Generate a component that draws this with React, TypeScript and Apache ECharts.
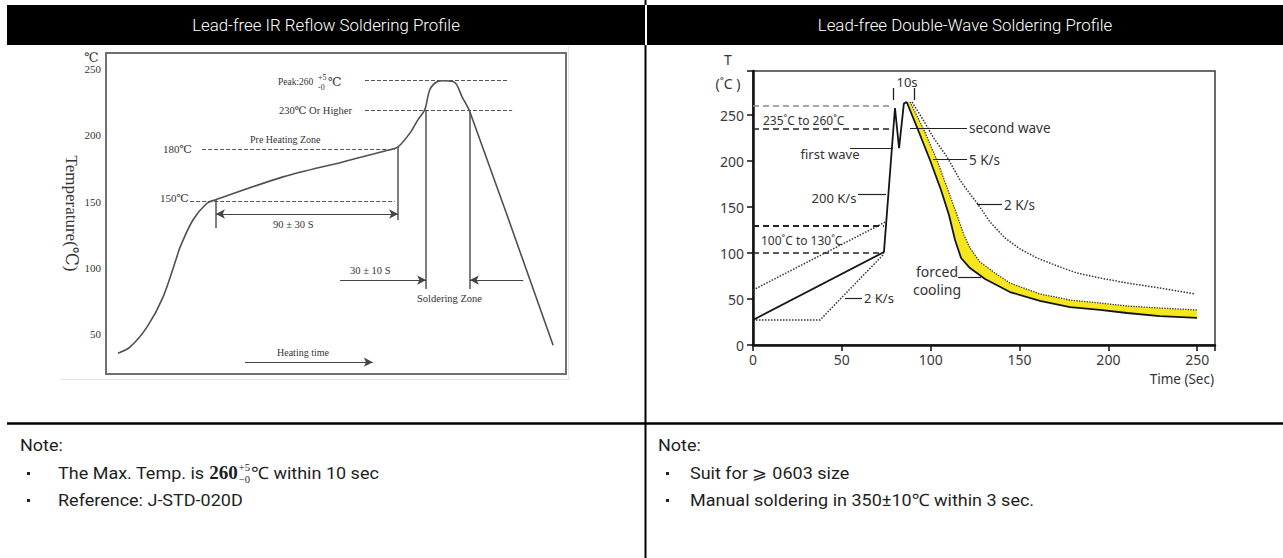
import React, { useEffect, useRef } from "react";
import * as echarts from "echarts";

// ---------------- Left chart: Lead-free IR reflow profile ----------------
// relative heating time (0..100) and temperature (°C) as drawn against the axis
const irTime = [2.6, 5.2, 8.9, 12.4, 15.4, 16.1, 18.9, 22.0, 23.7, 38.5, 51.5, 61.7, 63.5, 66.1, 67.8, 69.3, 70.4, 72.0, 73.7, 75.9, 77.4, 79.1, 97.2];
const irTemp = [35.6, 40.2, 55.3, 78.0, 108.2, 115.7, 136.1, 148.9, 151.2, 168.6, 179.9, 189.0, 191.2, 201.8, 211.6, 219.2, 234.3, 240.3, 241.1, 239.6, 229.0, 217.7, 41.7];
const irTickValues = [50, 100, 150, 200, 250];
// dashed guide levels: [fromTime, toTime, level]
const irGuides = [
  [56.3, 87.4, 241.1], // Peak:260
  [56.3, 88.3, 219.2], // 230°C Or Higher
  [20.9, 62.8, 189.7], // 180°C
  [18.3, 62.8, 150.5], // 150°C
];
// vertical zone markers: [time, fromTemp, toTemp]
const irZones = [
  [23.9, 151.2, 130.1],
  [63.5, 191.2, 136.1],
  [69.6, 219.2, 84.0],
  [79.1, 217.7, 84.0],
];
// arrows: [fromTime, toTime, level, arrowAtStart]
const irArrows = [
  [23.9, 63.5, 140.6, 1], // 90 ± 30 S
  [50.9, 69.6, 90.8, 0], // 30 ± 10 S
  [90.7, 79.1, 90.8, 0],
  [30.2, 58.0, 28.9, 0], // Heating time
];

// ---------------- Right chart: Lead-free double-wave soldering profile ----------------
const waveTicks = [0, 50, 100, 150, 200, 250];
const waveMainTime = [0, 73.7, 79.9, 82.2, 84.9, 86.5, 92.9, 99.6, 105.8, 110.3, 113.7, 117.1, 122.1, 130.6, 144.6, 161.5, 178.4, 195.3, 210.5, 229.0, 249.9];
const waveMainTemp = [27.2, 101.1, 257.7, 214.2, 262.5, 264.3, 233.8, 201.2, 168.6, 141.4, 114.2, 94.6, 83.7, 71.8, 57.6, 47.9, 41.3, 38.1, 34.8, 31.5, 29.4];
const waveCool5Time = [88.4, 96.2, 103.5, 109.7, 114.8, 118.7, 122.1, 127.7, 136.2, 144.6, 161.5, 178.4, 195.3, 210.5, 229.0, 249.9];
const waveCool5Temp = [264.3, 233.8, 201.2, 168.6, 141.4, 119.6, 105.5, 90.3, 78.3, 67.4, 55.5, 48.9, 45.7, 42.4, 40.2, 38.1];
const waveCool2Time = [89.5, 95.1, 101.3, 109.2, 116.5, 120.4, 126.1, 133.4, 141.8, 150.3, 159.8, 172.8, 182.3, 195.3, 210.5, 229.0, 248.7];
const waveCool2Temp = [264.3, 246.9, 226.2, 204.5, 179.4, 168.6, 154.4, 133.8, 116.4, 104.4, 94.6, 84.8, 78.3, 72.9, 67.4, 62.0, 55.5];
const wavePreUpperTime = [0, 74.5];
const wavePreUpperTemp = [59.8, 133.8];
const wavePreLowerTime = [0, 37.7, 73.7];
const wavePreLowerTemp = [27.2, 27.2, 99.0];
// dashed levels: [level, toTime]
const waveLevels = [
  [260, 78.8],
  [235, 78.8],
  [130, 73.7],
  [100, 73.7],
];

const zip = (a: number[], b: number[]) => a.map((v, i) => [v, b[i]]);

function measure(text: string, font: string): number {
  const c = document.createElement("canvas").getContext("2d");
  if (!c) return text.length * 8;
  c.font = font;
  return c.measureText(text).width;
}

const SERIF = '"Liberation Serif", "DejaVu Serif", serif';
const SANS = '"Noto Sans", "DejaVu Sans", sans-serif';
const UI = 'Roboto, "Noto Sans", sans-serif';

function txt(x: number, y: number, text: string, size: number, family: string, o: any = {}) {
  const align = o.align || "left";
  return {
    type: "text",
    x,
    y,
    z: 50,
    silent: true,
    scaleX: o.scaleX || 1,
    style: {
      text,
      fontSize: size,
      fontFamily: family,
      fontWeight: o.weight || "normal",
      fill: o.fill || "#333",
      align,
      textAlign: align,
      verticalAlign: "middle",
      textVerticalAlign: "middle",
    },
  };
}
function seg(x1: number, y1: number, x2: number, y2: number, w: number, color: string) {
  return { type: "line", z: 50, silent: true, shape: { x1, y1, x2, y2 }, style: { stroke: color, lineWidth: w } };
}
function box(x: number, y: number, w: number, h: number, fill: string) {
  return { type: "rect", z: 5, silent: true, shape: { x, y, width: w, height: h }, style: { fill } };
}

export default function App() {
  const ref = useRef<HTMLDivElement>(null);

  useEffect(() => {
    if (!ref.current) return;
    const chart = echarts.init(ref.current, null, { renderer: "svg" });

    // header: tall light text, condensed to the reference width
    const hdrText1 = "Lead-free IR Reflow Soldering Profile";
    const hdrText2 = "Lead-free Double-Wave Soldering Profile";
    const hdrSize = 17;
    let hdrScale = 268 / measure(hdrText1, `300 ${hdrSize}px ${UI}`);
    hdrScale = Math.max(0.72, Math.min(1.1, hdrScale));

    // notes
    const noteSize = 17;
    const noteFont = `${noteSize}px ${UI}`;
    const noteLong = "Manual soldering in 350±10℃ within 3 sec.";
    const ns = 1.06;

    const t1 = "The Max. Temp. is ";
    const x260 = 58 + measure(t1, noteFont) * ns;
    const numSize = noteSize + 1;
    const xSup = x260 + measure("260", `bold ${numSize}px ${SERIF}`) * ns + 1;
    const supSize = Math.round(noteSize * 0.6);
    const xAfter = xSup + measure("+5", `${supSize}px ${SERIF}`) * ns + 1;
    const nt = (x: number, y: number, s: string) => txt(x, y, s, noteSize, UI, { fill: "#1e1e1e", scaleX: ns });

    const graphics: any[] = [
      // table structure
      box(7, 5, 638, 40, "#000"),
      box(647, 5, 636, 40, "#000"),
      seg(645.5, 0, 645.5, 5, 2, "#000"),
      seg(645.5, 45, 645.5, 558, 2, "#000"),
      seg(7, 423.5, 1283, 423.5, 2.5, "#000"),
      // faint scanned-image edges
      seg(60, 379.5, 570, 379.5, 1, "#e2e2e2"),
      seg(568.5, 46, 568.5, 380, 1, "#e6e6e6"),
      // headers
      txt(326, 25, hdrText1, hdrSize, UI, { fill: "#fff", align: "center", weight: 300, scaleX: hdrScale }),
      txt(965, 25, hdrText2, hdrSize, UI, { fill: "#fff", align: "center", weight: 300, scaleX: hdrScale }),
      // notes left
      nt(20, 445, "Note:"),
      box(27, 472, 3, 3, "#222"),
      box(27, 499, 3, 3, "#222"),
      nt(58, 473, t1),
      txt(x260, 473, "260", numSize, SERIF, { fill: "#1e1e1e", weight: "bold", scaleX: ns }),
      txt(xSup, 468, "+5", supSize, SERIF, { fill: "#1e1e1e", scaleX: ns }),
      txt(xSup, 480, "−0", supSize, SERIF, { fill: "#1e1e1e", scaleX: ns }),
      nt(xAfter, 473, "℃ within 10 sec"),
      nt(58, 500, "Reference: J-STD-020D"),
      // notes right
      nt(658, 445, "Note:"),
      box(666, 472, 3, 3, "#222"),
      box(666, 499, 3, 3, "#222"),
      nt(690, 473, "Suit for ⩾ 0603 size"),
      nt(690, 500, noteLong),

      // left chart annotations
      txt(84, 57, "℃", 13, SERIF),
      txt(278, 82, "Peak:260", 9.5, SERIF),
      txt(318, 77, "+5", 8, SERIF),
      txt(318, 87, "-0", 8, SERIF),
      txt(328, 82, "℃", 12, SERIF),
      txt(279, 110, "230℃ Or Higher", 10.5, SERIF),
      txt(250, 139, "Pre Heating Zone", 10, SERIF),
      txt(163, 149, "180℃", 11, SERIF),
      txt(160, 198, "150℃", 11, SERIF),
      txt(273, 224, "90 ± 30 S", 10.5, SERIF),
      txt(350, 270, "30 ± 10 S", 10.5, SERIF),
      txt(417, 298, "Soldering Zone", 10.5, SERIF),
      txt(277, 352, "Heating time", 10, SERIF),

      // right chart annotations
      txt(728, 59, "T", 14, SANS, { align: "center" }),
      txt(728, 83, "(˚C )", 14, SANS, { align: "center" }),
      txt(907, 82, "10s", 13, SANS, { align: "center" }),
      seg(893.5, 88, 893.5, 100, 1.3, "#222"),
      seg(914.5, 88, 914.5, 100, 1.3, "#222"),
      txt(763, 120, "235˚C to 260˚C", 12, SANS),
      txt(830, 154, "first wave", 13, SANS, { align: "center" }),
      seg(850, 148.5, 893, 148.5, 1.2, "#222"),
      txt(834, 198, "200 K/s", 13, SANS, { align: "center" }),
      seg(858, 194.5, 886, 194.5, 1.2, "#222"),
      txt(761, 240, "100˚C to 130˚C", 12, SANS),
      txt(864, 298, "2 K/s", 13, SANS),
      seg(845, 298.5, 862, 298.5, 1.2, "#222"),
      seg(910, 128.5, 967, 128.5, 1.2, "#222"),
      txt(969, 128, "second wave", 13.5, SANS),
      seg(933, 159.5, 967, 159.5, 1.2, "#222"),
      txt(969, 160, "5 K/s", 13.5, SANS),
      seg(977, 204.5, 1002, 204.5, 1.2, "#222"),
      txt(1004, 205, "2 K/s", 13.5, SANS),
      txt(937, 271, "forced", 14, SANS, { align: "center" }),
      txt(937, 289, "cooling", 14, SANS, { align: "center" }),
      seg(958, 277.5, 981, 277.5, 1.2, "#222"),
      txt(1214, 379, "Time (Sec)", 13.5, SANS, { align: "right" }),
    ];

    const pair = (a: number[], b: number[], s1 = "none", s2 = "none") => [
      { coord: a, symbol: s1 },
      { coord: b, symbol: s2 },
    ];
    const bandLower = zip(waveMainTime, waveMainTemp).filter((p) => p[0] >= 86.5);
    const bandUpper = zip(waveCool5Time, waveCool5Temp);

    const option: any = {
      animation: false,
      backgroundColor: "#fff",
      grid: [
        { left: 106, top: 53, width: 460, height: 321, show: true, borderColor: "#707070", borderWidth: 2 },
        { left: 753, top: 71, width: 462, height: 274, show: true, borderColor: "#3a3a3a", borderWidth: 1.5 },
      ],
      xAxis: [
        { gridIndex: 0, type: "value", min: 0, max: 100, show: false },
        {
          gridIndex: 1,
          type: "value",
          min: 0,
          max: 260,
          interval: 50,
          axisLine: { show: true, onZero: false, lineStyle: { color: "#111", width: 2.5 } },
          axisTick: { show: true, length: 6, lineStyle: { color: "#111", width: 1.5 } },
          axisLabel: {
            color: "#3a3a3a",
            fontSize: 14,
            fontFamily: SANS,
            margin: 7,
            formatter: (v: number) => (waveTicks.includes(v) ? String(v) : ""),
          },
          splitLine: { show: false },
        },
      ],
      yAxis: [
        {
          gridIndex: 0,
          type: "value",
          min: 20,
          max: 262,
          interval: 10,
          axisLine: { show: false },
          axisTick: { show: false },
          splitLine: { show: false },
          axisLabel: {
            color: "#333",
            fontSize: 11,
            fontFamily: SERIF,
            margin: 5,
            formatter: (v: number) => (irTickValues.includes(v) ? String(v) : ""),
          },
          name: "Temperature(℃)",
          nameLocation: "middle",
          nameRotate: -90,
          nameGap: 26,
          nameTextStyle: { fontFamily: SERIF, fontSize: 17, color: "#333" },
        },
        {
          gridIndex: 1,
          type: "value",
          min: 0,
          max: 298,
          interval: 50,
          axisLine: { show: true, onZero: false, lineStyle: { color: "#111", width: 2.5 } },
          axisTick: { show: true, length: 6, lineStyle: { color: "#111", width: 1.5 } },
          splitLine: { show: false },
          axisLabel: {
            color: "#3a3a3a",
            fontSize: 14,
            fontFamily: SANS,
            margin: 9,
            formatter: (v: number) => (waveTicks.includes(v) ? String(v) : ""),
          },
        },
      ],
      series: [
        {
          name: "IR profile",
          type: "line",
          xAxisIndex: 0,
          yAxisIndex: 0,
          data: zip(irTime, irTemp),
          smooth: 0.3,
          showSymbol: false,
          silent: true,
          lineStyle: { color: "#505050", width: 1.6 },
          markLine: {
            silent: true,
            symbol: "none",
            label: { show: false },
            lineStyle: { color: "#555", width: 1, type: [4, 2] },
            data: irGuides.map((g) => pair([g[0], g[2]], [g[1], g[2]])),
          },
        },
        {
          name: "IR zones",
          type: "line",
          xAxisIndex: 0,
          yAxisIndex: 0,
          data: [],
          silent: true,
          markLine: {
            silent: true,
            symbol: "none",
            label: { show: false },
            lineStyle: { color: "#555", width: 1.5, type: "solid" },
            data: irZones.map((z) => pair([z[0], z[1]], [z[0], z[2]])),
          },
        },
        {
          name: "IR arrows",
          type: "line",
          xAxisIndex: 0,
          yAxisIndex: 0,
          data: [],
          silent: true,
          markLine: {
            silent: true,
            symbolSize: [7, 9],
            label: { show: false },
            lineStyle: { color: "#444", width: 1.2, type: "solid" },
            data: irArrows.map((a) => pair([a[0], a[2]], [a[1], a[2]], a[3] ? "arrow" : "none", "arrow")),
          },
        },
        {
          name: "cooling band",
          type: "custom",
          xAxisIndex: 1,
          yAxisIndex: 1,
          data: [[0, 0]],
          silent: true,
          z: 1,
          renderItem: (_p: any, api: any) => {
            const pts = bandUpper.map((p) => api.coord(p)).concat(bandLower.slice().reverse().map((p) => api.coord(p)));
            return { type: "polygon", shape: { points: pts }, style: { fill: "#f6e61e" } };
          },
        },
        {
          name: "wave preheat upper",
          type: "line",
          xAxisIndex: 1,
          yAxisIndex: 1,
          data: zip(wavePreUpperTime, wavePreUpperTemp),
          showSymbol: false,
          silent: true,
          lineStyle: { color: "#333", width: 1.5, type: "dotted" },
        },
        {
          name: "wave preheat lower",
          type: "line",
          xAxisIndex: 1,
          yAxisIndex: 1,
          data: zip(wavePreLowerTime, wavePreLowerTemp),
          showSymbol: false,
          silent: true,
          lineStyle: { color: "#333", width: 1.5, type: "dotted" },
        },
        {
          name: "2 K/s cooling",
          type: "line",
          xAxisIndex: 1,
          yAxisIndex: 1,
          data: zip(waveCool2Time, waveCool2Temp),
          showSymbol: false,
          silent: true,
          lineStyle: { color: "#333", width: 1.5, type: "dotted" },
        },
        {
          name: "5 K/s cooling",
          type: "line",
          xAxisIndex: 1,
          yAxisIndex: 1,
          data: bandUpper,
          showSymbol: false,
          silent: true,
          z: 3,
          lineStyle: { color: "#333", width: 1.3, type: "dotted" },
        },
        {
          name: "wave profile",
          type: "line",
          xAxisIndex: 1,
          yAxisIndex: 1,
          data: zip(waveMainTime, waveMainTemp),
          showSymbol: false,
          silent: true,
          z: 4,
          lineStyle: { color: "#151515", width: 1.8 },
          markLine: {
            silent: true,
            symbol: "none",
            label: { show: false },
            data: waveLevels.map((l, i) => [
              {
                coord: [0, l[0]],
                lineStyle: {
                  color: i === 0 ? "#8a8a8a" : "#222",
                  width: i === 2 ? 2.2 : 1.5,
                  type: [6, 4],
                },
              },
              { coord: [l[1], l[0]] },
            ]),
          },
        },
      ],
      graphic: { elements: graphics },
    };

    chart.setOption(option);
    return () => chart.dispose();
  }, []);

  return (
    <div
      ref={ref}
      style={{ position: "absolute", left: 0, top: 0, width: 1283, height: 558, background: "#fff" }}
    />
  );
}
